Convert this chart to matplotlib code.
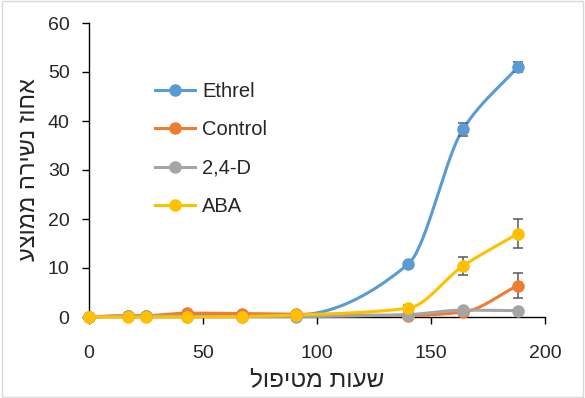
import numpy as np
import matplotlib
matplotlib.use("Agg")
import matplotlib.pyplot as plt
from matplotlib.lines import Line2D

# Hours after treatment and mean abscission (%) per treatment
hours = [0, 17, 25, 43, 67, 91, 140, 164, 188]
ethrel = [0, 0.2, 0.2, 0.3, 0.3, 0.4, 10.8, 38.3, 51.0]
control = [0, 0.3, 0.3, 0.8, 0.7, 0.6, 0.3, 1.0, 6.4]
d24 = [0, 0.2, 0.2, 0.1, 0.1, 0.1, 0.5, 1.4, 1.3]
aba = [0, 0.0, 0.0, 0.0, 0.1, 0.4, 1.8, 10.4, 17.0]

ethrel_err = [0, 0, 0, 0, 0, 0, 0.4, 1.3, 1.1]
control_err = [0, 0, 0, 0, 0, 0, 0.2, 0.4, 2.6]
d24_err = [0, 0, 0, 0, 0, 0, 0.2, 0.3, 0.3]
aba_err = [0, 0, 0, 0, 0, 0, 0.7, 1.8, 3.0]

series_names = ["Ethrel", "Control", "2,4-D", "ABA"]
colors = ["#5B9BD5", "#ED7D31", "#A5A5A5", "#FFC000"]

x_title = "שעות מטיפול"
y_title = "אחוז נשירה ממוצע"


def smooth(xs, ys, n=60):
    """Monotone piecewise-cubic (Fritsch-Carlson) curve through the points."""
    x = np.asarray(xs, float)
    y = np.asarray(ys, float)
    h = np.diff(x)
    d = np.diff(y) / h
    m = np.zeros_like(y)
    m[0], m[-1] = d[0], d[-1]
    for k in range(1, len(x) - 1):
        if d[k - 1] * d[k] > 0:
            w1 = 2 * h[k] + h[k - 1]
            w2 = h[k] + 2 * h[k - 1]
            m[k] = (w1 + w2) / (w1 / d[k - 1] + w2 / d[k])
    px, py = [], []
    for k in range(len(x) - 1):
        t = np.linspace(0, 1, n)
        h00 = 2 * t**3 - 3 * t**2 + 1
        h10 = t**3 - 2 * t**2 + t
        h01 = -2 * t**3 + 3 * t**2
        h11 = t**3 - t**2
        seg_y = h00 * y[k] + h10 * h[k] * m[k] + h01 * y[k + 1] + h11 * h[k] * m[k + 1]
        seg_x = x[k] + t * h[k]
        if k > 0:
            seg_x, seg_y = seg_x[1:], seg_y[1:]
        px.append(seg_x)
        py.append(seg_y)
    return np.concatenate(px), np.concatenate(py)


plt.rcParams["font.family"] = ["Liberation Sans", "DejaVu Sans"]

fig = plt.figure(figsize=(5.85, 3.98), dpi=100)
ax = fig.add_axes([89 / 585, 1 - 317 / 398, (545 - 89) / 585, (317 - 23) / 398])

data = [(ethrel, ethrel_err), (control, control_err), (d24, d24_err), (aba, aba_err)]
handles = []
for (vals, errs), name, c in zip(data, series_names, colors):
    sx, sy = smooth(hours, vals)
    ax.plot(sx, sy, color=c, lw=2.2, solid_capstyle="round", zorder=3)
    ax.errorbar(hours, vals, yerr=errs, fmt="none", ecolor="#595959",
                elinewidth=1.1, capsize=3.5, capthick=1.1, zorder=4)
    ax.plot(hours, vals, "o", color=c, ms=8, zorder=5)
    handles.append(Line2D([0], [0], color=c, lw=2.2, marker="o", ms=8))

ax.set_xlim(0, 200)
ax.set_ylim(0, 60)
ax.set_xticks(range(0, 201, 50))
ax.set_yticks(range(0, 61, 10))
for s in ["top", "right"]:
    ax.spines[s].set_visible(False)
for s in ["left", "bottom"]:
    ax.spines[s].set_color("black")
    ax.spines[s].set_linewidth(1.0)
    ax.spines[s].set_zorder(2)
ax.tick_params(direction="out", length=5, width=1.0, labelsize=14,
               colors="black", labelcolor="#262626")
ax.tick_params(axis="x", pad=15.5)
ax.tick_params(axis="y", pad=9)

ax.set_xlabel(x_title[::-1], fontsize=17.5, color="#262626", labelpad=5)
ax.set_ylabel(y_title[::-1], fontsize=17, color="#262626", labelpad=5.5)

leg = ax.legend(handles, series_names, loc="upper left",
                bbox_to_anchor=(0.145, 0.80), frameon=False, fontsize=14.5,
                handlelength=2.0, labelspacing=0.97, handletextpad=0.35,
                borderpad=0, borderaxespad=0, labelcolor="#262626")

fig.patches.append(plt.Rectangle((0.003, 0.003), 0.994, 0.994, transform=fig.transFigure,
                                 fill=False, edgecolor="#D9D9D9", lw=1.0))

for ln in ax.get_lines():
    ln.set_clip_on(False)

fig.savefig("out.png", dpi=100)
